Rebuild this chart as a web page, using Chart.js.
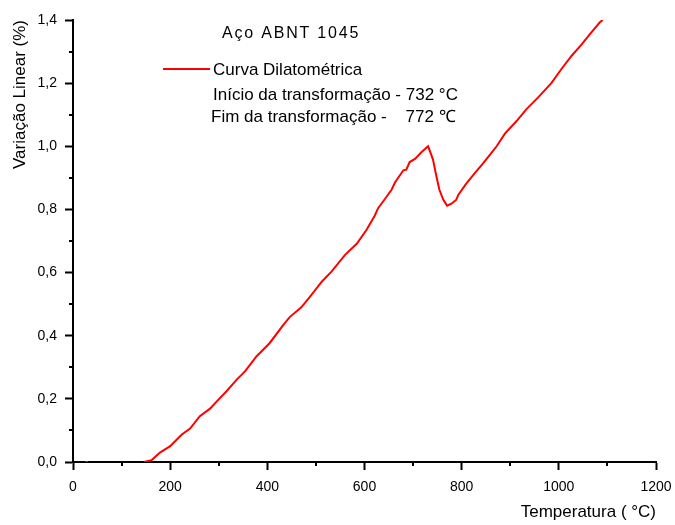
<!DOCTYPE html>
<html lang="pt">
<head>
<meta charset="UTF-8">
<title>Aço ABNT 1045 - Curva Dilatométrica</title>
<script src="https://cdn.jsdelivr.net/npm/chart.js@4.4.1/dist/chart.umd.min.js"></script>
<style>
    html, body { margin: 0; padding: 0; background: #fff; }
    #wrap { width: 675px; height: 525px; }
</style>
</head>
<body>
<div id="wrap"><canvas id="dilat"></canvas></div>
<script>
// temperature (°C) and linear variation (%)
const tempC = [25, 31, 90, 146, 162, 179, 200, 224, 241, 261, 282, 296, 316, 337, 354, 378, 405, 433, 446, 470,
    488, 512, 532, 560, 584, 604, 621, 628, 642, 656, 663, 680, 686, 693, 704, 717, 731, 741, 748, 754,
    762, 770, 779, 789, 793, 809, 827, 844, 858, 872, 889, 913, 933, 957, 985, 1005, 1026, 1047, 1064, 1084, 1090];
const variacao = [0, 0, null, 0, 0.006, 0.03, 0.05, 0.087, 0.106, 0.145, 0.169, 0.192, 0.224, 0.261, 0.287, 0.335, 0.377, 0.434, 0.459, 0.49,
    0.524, 0.571, 0.603, 0.656, 0.691, 0.735, 0.78, 0.804, 0.833, 0.863, 0.886, 0.924, 0.926, 0.95, 0.96, 0.981, 1.0, 0.958, 0.905, 0.863,
    0.831, 0.812, 0.818, 0.831, 0.846, 0.881, 0.915, 0.946, 0.973, 1.0, 1.04, 1.08, 1.117, 1.154, 1.201, 1.244, 1.286, 1.323, 1.355, 1.392, 1.4];

const xMajor = 200, xMinor = 100;
const yMajor = 0.2, yMinor = 0.1;

const titulo = 'Aço ABNT 1045';
const legenda = 'Curva Dilatométrica';
const inicio = 'Início da transformação - 732 °C';
const fim = 'Fim da transformação -    772 ℃';

const FONT = '"Liberation Sans", Arial, sans-serif';

// short minor ticks between the labelled ones, plus the text block
const extras = {
    id: 'extras',
    afterDraw(chart) {
        const ctx = chart.ctx;
        const xs = chart.scales.x, ys = chart.scales.y;
        const area = chart.chartArea;
        ctx.save();
        ctx.strokeStyle = '#000';
        ctx.lineWidth = 2;
        ctx.beginPath();
        for (let v = xMinor; v < xs.max; v += xMajor) {
            const px = Math.round(xs.getPixelForValue(v));
            ctx.moveTo(px, area.bottom);
            ctx.lineTo(px, area.bottom + 4);
        }
        for (let v = yMinor; v < ys.max; v += yMajor) {
            const py = Math.round(ys.getPixelForValue(v));
            ctx.moveTo(area.left, py);
            ctx.lineTo(area.left - 4, py);
        }
        ctx.stroke();

        ctx.fillStyle = '#000';
        ctx.textBaseline = 'middle';
        ctx.textAlign = 'left';
        ctx.font = '16px ' + FONT;
        ctx.letterSpacing = '1.8px';
        ctx.fillText(titulo, 222, 34);
        ctx.letterSpacing = '0px';

        ctx.strokeStyle = '#ff0000';
        ctx.beginPath();
        ctx.moveTo(163, 69);
        ctx.lineTo(210, 69);
        ctx.stroke();

        ctx.font = '17px ' + FONT;
        ctx.fillText(legenda, 213, 70);
        ctx.fillText(inicio, 213, 95);
        ctx.fillText(fim, 211, 117);
        ctx.restore();
    }
};

new Chart(document.getElementById('dilat'), {
    type: 'line',
    data: {
        datasets: [{
            label: legenda,
            data: tempC.map((t, i) => ({ x: t, y: variacao[i] })),
            borderColor: '#ff0000',
            borderWidth: 2,
            pointRadius: 0,
            tension: 0,
            spanGaps: false
        }]
    },
    options: {
        responsive: true,
        maintainAspectRatio: false,
        animation: false,
        layout: { padding: { top: 20, right: 19, left: 0, bottom: 0 } },
        plugins: {
            legend: { display: false },
            tooltip: { enabled: false }
        },
        scales: {
            x: {
                type: 'linear',
                min: 0,
                max: 1200,
                afterFit(s) { s.height = 63; s.paddingLeft = 0; s.paddingRight = 0; },
                border: { display: true, color: '#000', width: 2 },
                grid: { drawOnChartArea: false, drawTicks: true, tickLength: 8, tickWidth: 2, tickColor: '#000' },
                ticks: {
                    stepSize: xMajor,
                    padding: 9,
                    color: '#000',
                    font: { family: FONT, size: 14 },
                    callback: v => String(v)
                },
                title: {
                    display: true,
                    text: 'Temperatura ( °C)',
                    align: 'end',
                    color: '#000',
                    font: { family: FONT, size: 17 },
                    padding: { top: 0, bottom: 2 }
                }
            },
            y: {
                type: 'linear',
                min: 0,
                max: 1.4,
                afterFit(s) { s.width = 73; },
                border: { display: true, color: '#000', width: 2 },
                grid: { drawOnChartArea: false, drawTicks: true, tickLength: 8, tickWidth: 2, tickColor: '#000' },
                ticks: {
                    stepSize: yMajor,
                    padding: 8,
                    color: '#000',
                    font: { family: FONT, size: 14 },
                    callback: v => v.toFixed(1).replace('.', ',')
                },
                title: {
                    display: true,
                    text: 'Variação Linear (%)',
                    align: 'end',
                    color: '#000',
                    font: { family: FONT, size: 17 },
                    padding: { top: 10, bottom: 0 }
                }
            }
        }
    },
    plugins: [extras]
});
</script>
</body>
</html>
